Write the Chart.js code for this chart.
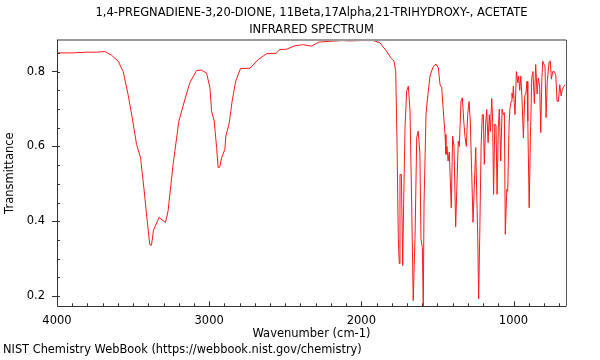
<!DOCTYPE html>
<html>
<head>
<meta charset="utf-8">
<script src="https://cdn.jsdelivr.net/npm/chart.js@4"></script>
<style>
  body { margin: 0; background: #fff; }
</style>
</head>
<body>
<canvas id="ir-chart" width="600" height="360"></canvas>
<script>
// spectrum, high to low wavenumber
const wavenumbers = [
  4000, 3900, 3800, 3740, 3707, 3686, 3642, 3598, 3565, 3533, 3506, 3477, 3451, 3427, 3405, 3390,
  3379, 3366, 3329, 3287, 3270, 3237, 3199, 3160, 3127, 3083, 3050, 3017, 2995, 2984, 2967, 2951,
  2941, 2930, 2918, 2897, 2890, 2868, 2849, 2826, 2794, 2732, 2678, 2622, 2561, 2535, 2491, 2436,
  2382, 2327, 2279, 2206, 2129, 2075, 2009, 1922, 1878, 1833, 1805, 1785, 1774, 1766, 1757, 1751,
  1746, 1737, 1728, 1722, 1713, 1702, 1691, 1680, 1669, 1659, 1647, 1636, 1626, 1615, 1608, 1599,
  1593, 1588, 1575, 1567, 1549, 1527, 1509, 1494, 1483, 1472, 1461, 1450, 1444, 1437, 1430, 1422,
  1409, 1400, 1391, 1380, 1363, 1356, 1345, 1336, 1327, 1319, 1310, 1301, 1292, 1284, 1275, 1266,
  1258, 1248, 1242, 1235, 1229, 1222, 1213, 1205, 1198, 1192, 1183, 1176, 1167, 1159, 1152, 1143,
  1137, 1131, 1123, 1115, 1108, 1100, 1093, 1084, 1075, 1067, 1060, 1054, 1044, 1038, 1029, 1023,
  1016, 1010, 1005, 1001, 995, 990, 981, 972, 966, 959, 952, 944, 935, 926, 918, 911,
  906, 897, 889, 880, 872, 863, 854, 845, 837, 828, 821, 814, 808, 799, 793, 786,
  778, 766, 758, 751, 742, 732, 722, 714, 705, 696, 687, 679, 670, 661
];
const transmittance = [
  0.850, 0.850, 0.852, 0.852, 0.853, 0.854, 0.844, 0.828, 0.800, 0.739, 0.677, 0.605, 0.570, 0.481, 0.392, 0.337,
  0.336, 0.376, 0.410, 0.397, 0.428, 0.552, 0.668, 0.725, 0.770, 0.803, 0.804, 0.796, 0.757, 0.694, 0.668, 0.597,
  0.543, 0.545, 0.570, 0.592, 0.628, 0.663, 0.721, 0.774, 0.808, 0.809, 0.832, 0.848, 0.849, 0.859, 0.860, 0.869,
  0.872, 0.868, 0.879, 0.881, 0.883, 0.882, 0.883, 0.883, 0.877, 0.854, 0.836, 0.828, 0.800, 0.623, 0.356, 0.287,
  0.525, 0.525, 0.281, 0.445, 0.650, 0.748, 0.761, 0.694, 0.443, 0.188, 0.360, 0.624, 0.641, 0.579, 0.352, 0.330,
  0.168, 0.445, 0.685, 0.721, 0.788, 0.814, 0.820, 0.810, 0.765, 0.758, 0.694, 0.632, 0.579, 0.600, 0.561, 0.585,
  0.436, 0.628, 0.600, 0.385, 0.614, 0.600, 0.721, 0.730, 0.668, 0.627, 0.600, 0.685, 0.720, 0.668, 0.534, 0.397,
  0.490, 0.597, 0.481, 0.360, 0.192, 0.360, 0.600, 0.685, 0.685, 0.552, 0.660, 0.699, 0.610, 0.685, 0.640, 0.728,
  0.668, 0.472, 0.660, 0.655, 0.472, 0.650, 0.700, 0.561, 0.700, 0.685, 0.690, 0.365, 0.485, 0.480, 0.660, 0.703,
  0.720, 0.743, 0.730, 0.761, 0.715, 0.685, 0.800, 0.770, 0.788, 0.750, 0.788, 0.725, 0.623, 0.735, 0.743, 0.774,
  0.668, 0.436, 0.623, 0.783, 0.800, 0.715, 0.819, 0.740, 0.783, 0.760, 0.637, 0.774, 0.828, 0.819, 0.815, 0.677,
  0.774, 0.826, 0.828, 0.780, 0.800, 0.800, 0.790, 0.721, 0.720, 0.765, 0.735, 0.752, 0.760, 0.765
];

const xTickLabels = [4000, 3000, 2000, 1000];
const yTickLabels = [0.2, 0.4, 0.6, 0.8];
const titleLines = ['1,4-PREGNADIENE-3,20-DIONE, 11Beta,17Alpha,21-TRIHYDROXY-, ACETATE', 'INFRARED SPECTRUM'];
const footerText = 'NIST Chemistry WebBook (https://webbook.nist.gov/chemistry)';

const font = { family: 'DejaVu Sans', size: 11.5, weight: 'normal' };

// frame + inward ticks, like the NIST plots
const frameTicks = {
  id: 'frameTicks',
  afterDraw(chart) {
    const { ctx, chartArea: a, scales: { x, y } } = chart;
    ctx.save();
    ctx.lineWidth = 1;
    ctx.strokeStyle = '#333';
    ctx.beginPath();
    for (let v = 700; v < 4000; v += 100) {
      const px = Math.round(x.getPixelForValue(v)) + 0.5;
      const len = v % 1000 === 0 ? 5 : 3;
      ctx.moveTo(px, a.bottom);
      ctx.lineTo(px, a.bottom - len);
    }
    for (let v = 0.2; v < 0.88; v += 0.05) {
      const py = Math.round(y.getPixelForValue(v)) + 0.5;
      ctx.moveTo(a.left, py);
      ctx.lineTo(a.left + 3, py);
    }
    ctx.stroke();

    ctx.strokeStyle = '#9a9a9a';
    ctx.lineWidth = 2;
    ctx.beginPath();
    ctx.moveTo(a.left, a.top);
    ctx.lineTo(a.right, a.top);
    ctx.stroke();

    ctx.lineWidth = 1;
    ctx.strokeStyle = '#555';
    ctx.beginPath();
    ctx.moveTo(Math.round(a.right) + 0.5, a.top);
    ctx.lineTo(Math.round(a.right) + 0.5, a.bottom);
    ctx.stroke();

    ctx.strokeStyle = '#333';
    ctx.beginPath();
    ctx.moveTo(Math.round(a.left) + 0.5, a.top);
    ctx.lineTo(Math.round(a.left) + 0.5, Math.round(a.bottom) + 0.5);
    ctx.lineTo(a.right, Math.round(a.bottom) + 0.5);
    ctx.stroke();
    ctx.restore();
  }
};

const canvas = document.querySelector('#ir-chart');
new Chart(canvas.getContext('2d'), {
  type: 'line',
  data: {
    datasets: [{
      data: wavenumbers.map((w, i) => ({ x: w, y: transmittance[i] })),
      borderColor: '#ff1a1a',
      borderWidth: 1,
      pointRadius: 0,
      tension: 0,
      fill: false
    }]
  },
  options: {
    responsive: false,
    animation: false,
    layout: { padding: { left: 3, right: 34, top: 0, bottom: 0 } },
    plugins: {
      legend: { display: false },
      tooltip: { enabled: false },
      title: {
        display: true,
        text: titleLines,
        fullSize: false,
        color: '#000',
        font: { ...font, lineHeight: 1.5 },
        padding: { top: 4, bottom: 1.5 }
      },
      subtitle: {
        display: true,
        text: footerText,
        position: 'bottom',
        align: 'start',
        fullSize: true,
        color: '#000',
        font: { ...font, size: 11.4 },
        padding: { top: 2, bottom: 3 }
      }
    },
    scales: {
      x: {
        type: 'linear',
        reverse: true,
        min: 655,
        max: 4000,
        afterBuildTicks: s => { s.ticks = xTickLabels.map(v => ({ value: v })); },
        afterFit: s => { s.height = 35; },
        grid: { display: false, drawTicks: false },
        border: { display: false },
        ticks: { color: '#000', font: font, padding: 8, maxRotation: 0, autoSkip: false, callback: v => String(v) },
        title: { display: true, text: 'Wavenumber (cm-1)', color: '#000', font: font, padding: { top: 0, bottom: 0 } }
      },
      y: {
        min: 0.1725,
        max: 0.8845,
        afterBuildTicks: s => { s.ticks = yTickLabels.map(v => ({ value: v })); },
        afterFit: s => { s.width = 54; },
        grid: { display: true, drawOnChartArea: false, drawTicks: true, tickLength: 5, color: '#333' },
        border: { display: false },
        ticks: { color: '#000', font: font, padding: 7, callback: v => v.toFixed(1) },
        title: { display: true, text: 'Transmittance', color: '#000', font: font, padding: { top: 0, bottom: 0 } }
      }
    }
  },
  plugins: [frameTicks]
});
</script>
</body>
</html>
